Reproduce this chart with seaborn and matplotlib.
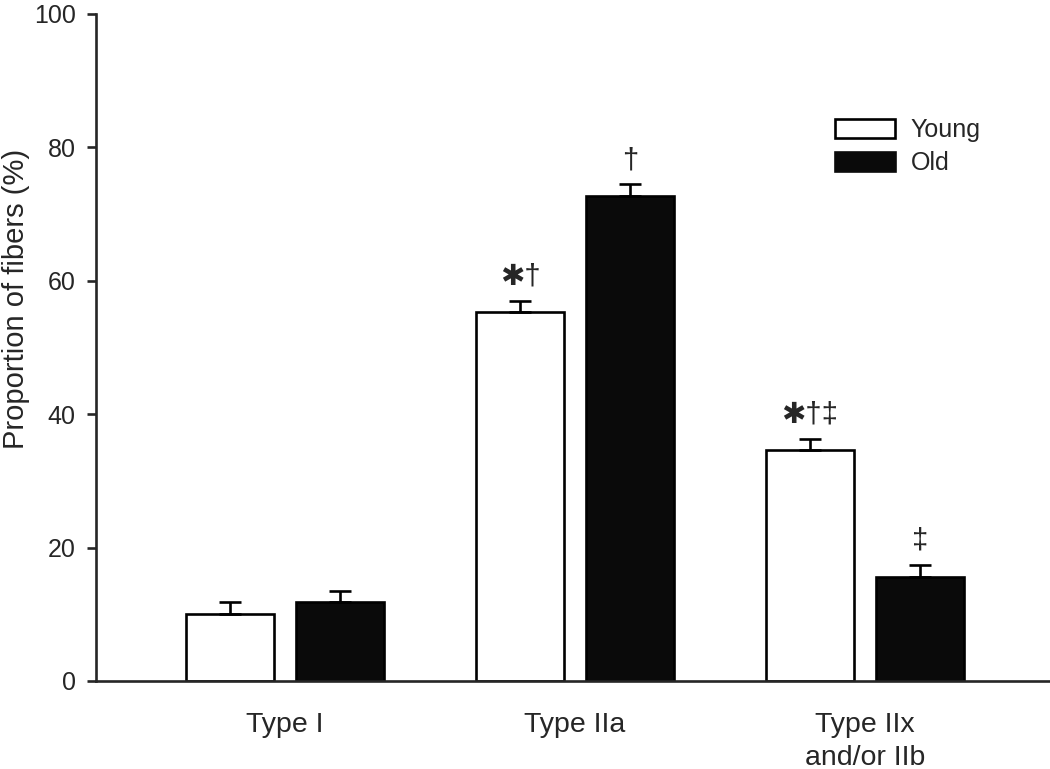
import pandas as pd
import matplotlib.pyplot as plt
import seaborn as sns
from matplotlib.patches import Patch

# fiber type proportions
categories = ["Type I", "Type IIa", "Type IIx\nand/or IIb"]
groups = ["Young", "Old"]
young_mean = [10.0, 55.3, 34.7]
old_mean = [11.8, 72.7, 15.6]
young_sem = [1.8, 1.7, 1.6]
old_sem = [1.7, 1.8, 1.8]
young_marks = ["", "\u2731\u2020", "\u2731\u2020\u2021"]
old_marks = ["", "\u2020", "\u2021"]


def main():
    df = pd.DataFrame({
        "fiber": categories * 2,
        "group": ["Young"] * 3 + ["Old"] * 3,
        "value": young_mean + old_mean,
    })

    sns.set_style("ticks")
    plt.rcParams["font.family"] = ["Liberation Sans", "DejaVu Sans"]
    plt.rcParams["font.size"] = 18

    fig = plt.figure(figsize=(10.5, 7.69), dpi=100)
    ax = fig.add_axes([96 / 1050, 88 / 769, 954 / 1050, 667 / 769])

    sns.barplot(data=df, x="fiber", y="value", hue="group", order=categories,
                hue_order=groups, palette={"Young": "white", "Old": "#0a0a0a"},
                edgecolor="black", linewidth=1.9, width=0.76, gap=0.2,
                saturation=1, errorbar=None, legend=False, ax=ax)

    sems = [young_sem, old_sem]
    means = [young_mean, old_mean]
    marks = [young_marks, old_marks]
    for cont, m, s, mk in zip(ax.containers, means, sems, marks):
        xs = [p.get_x() + p.get_width() / 2 for p in cont.patches]
        ax.errorbar(xs, m, yerr=[[0] * len(s), s], fmt="none", ecolor="black",
                    elinewidth=1.9, capsize=7.8, capthick=1.9, zorder=1)
        for x, v, e, t in zip(xs, m, s, mk):
            if t:
                ax.annotate(t, (x, v + e), xytext=(0, 11.5), textcoords="offset points",
                            ha="center", va="baseline", fontsize=21)

    ax.set_ylim(0, 100)
    ax.set_xlim(-0.652, 2.638)
    ax.set_yticks([0, 20, 40, 60, 80, 100])
    ax.set_ylabel("Proportion of fibers (%)", fontsize=21)
    ax.yaxis.set_label_coords(-0.069, 0.573)
    ax.set_xlabel("")
    ax.tick_params(axis="y", length=6.5, width=1.9, labelsize=18, pad=8)
    ax.tick_params(axis="x", length=0, labelsize=20.5, pad=22)
    for lbl in ax.get_xticklabels():
        lbl.set_linespacing(1.35)
    sns.despine(ax=ax)
    for sp in ["left", "bottom"]:
        ax.spines[sp].set_linewidth(1.9)

    handles = [Patch(facecolor="white", edgecolor="black", linewidth=1.9, label="Young"),
               Patch(facecolor="#0a0a0a", edgecolor="#0a0a0a", linewidth=1.9, label="Old")]
    fig.legend(handles=handles, loc="upper left", bbox_to_anchor=(835 / 1050, 1 - 118 / 769),
               frameon=False, borderpad=0, borderaxespad=0, handlelength=2.4,
               handleheight=0.8, handletextpad=0.62, labelspacing=0.38, fontsize=18)

    fig.savefig("out.png", dpi=100)
    plt.close(fig)


if __name__ == "__main__":
    main()
